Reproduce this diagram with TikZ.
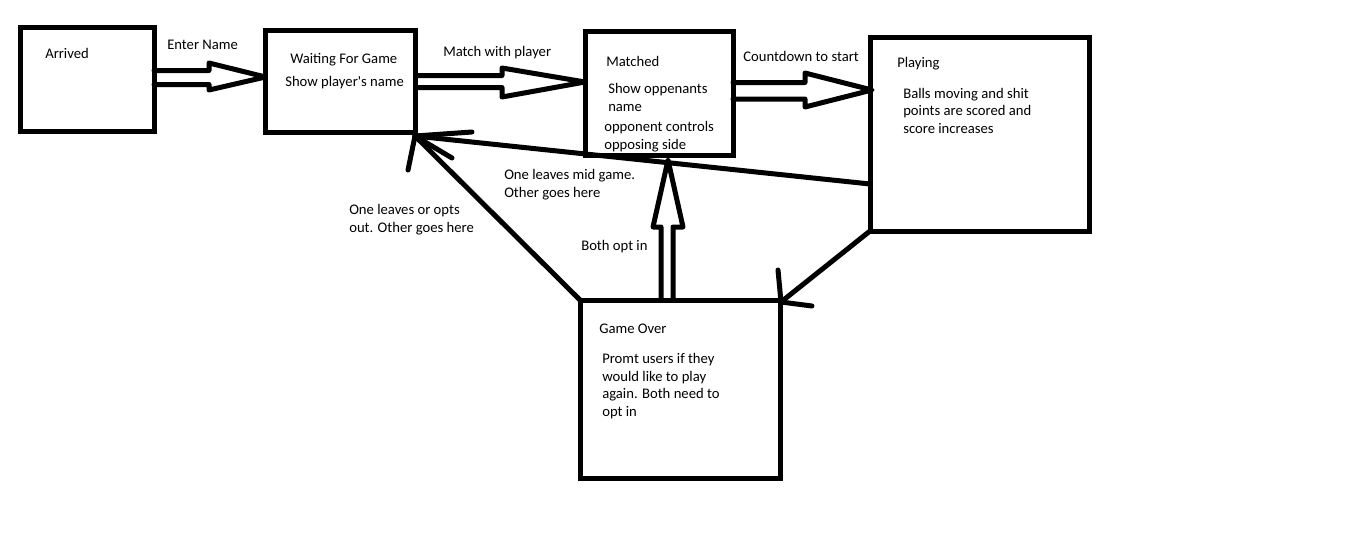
\documentclass[tikz,border=0pt]{standalone}
\usepackage{fontspec}
\setmainfont{Carlito}
\usetikzlibrary{fit}

\tikzset{
  ink/.style={line width=3.75pt, line join=round, line cap=round, draw=black},
  statebox/.style={draw=black, line width=3.75pt, inner sep=0pt, outer sep=0pt, rectangle},
  label/.style={font=\fontsize{11}{13.3}\selectfont, inner sep=0pt, anchor=base west, align=left, text=black}
}

\begin{document}
\begin{tikzpicture}[x=0.75pt, y=-0.75pt]
  \useasboundingbox (0,0) rectangle (1357,553);

  % states
  \node[statebox, fit={(20,27.5) (154,131)}] (arrived) {};
  \node[statebox, fit={(265.5,30.5) (415.5,132)}] (waiting) {};
  \node[statebox, fit={(585,31) (733,155)}] (matched) {};
  \node[statebox, fit={(870,37) (1089,231)}] (playing) {};
  \node[statebox, fit={(580,300) (780,478)}] (gameover) {};

  % state texts (multi-line labels are placed by their last baseline)
  \node[label] (tArrived) at (45,58.5) {Arrived};
  \node[label] (tWaiting) at (290,63.5) {Waiting For Game};
  \node[label] (tWaiting2) at (285,86.5) {Show player\textquotesingle s name};
  \node[label] (tMatched) at (606,66.5) {Matched};
  \node[label] (tMatched2) at (608,111.5) {Show oppenants\\ name};
  \node[label] (tMatched3) at (604,149) {opponent controls\\opposing side};
  \node[label] (tPlaying) at (897,67.5) {Playing};
  \node[label] (tPlaying2) at (903,133.5) {Balls moving and shit\\points are scored and\\score increases};
  \node[label] (tOver) at (599,333.5) {Game Over};
  \node[label] (tOver2) at (602,416.5) {Promt users if they\\would like to play\\again. Both need to\\opt in};

  % transition texts
  \node[label] (lEnter) at (167,49.5) {Enter Name};
  \node[label] (lMatch) at (443,56.5) {Match with player};
  \node[label] (lCount) at (743,61.5) {Countdown to start};
  \node[label] (lMid) at (504,197.5) {One leaves mid game.\\Other goes here};
  \node[label] (lOpts) at (349,232.5) {One leaves or opts\\out. Other goes here};
  \node[label] (lBoth) at (581,250.5) {Both opt in};

  % hollow block arrows
  \draw[ink] (arrived.east |- 0,70.5) -- (209,70.5) -- (209,63)
    -- (waiting.west |- 0,77) -- (209,90) -- (209,84.5) -- (arrived.east |- 0,84.5);
  \draw[ink] (waiting.east |- 0,75.5) -- (502,75.5) -- (502,68)
    -- (matched.west |- 0,82) -- (502,97) -- (502,87.5) -- (waiting.east |- 0,87.5);
  \draw[ink] (matched.east |- 0,82.5) -- (805,82.5) -- (805,73)
    -- ([xshift=1.5pt]playing.west |- 0,90) -- (805,107) -- (805,99) -- (matched.east |- 0,99);
  \coordinate (optTip) at (668,160);
  \draw[ink] (gameover.north -| 661,0) -- (661,227) -- (653,227)
    -- (optTip) -- (683,227) -- (673,227) -- (gameover.north -| 673,0);

  % line arrows back to waiting
  \coordinate (backTip) at (415,136);
  \draw[ink] (playing.west |- 0,184) -- (backTip);
  \draw[ink] (gameover.north west) -- (backTip);
  \draw[ink] (backTip) -- (472,132);
  \draw[ink] (backTip) -- (452,158);
  \draw[ink] (backTip) -- (408,170);

  % line arrow from playing to game over
  \coordinate (overTip) at (781,302);
  \draw[ink] (playing.south west) -- (overTip);
  \draw[ink] (overTip) -- (778,270);
  \draw[ink] (overTip) -- (812,306);
\end{tikzpicture}
\end{document}
